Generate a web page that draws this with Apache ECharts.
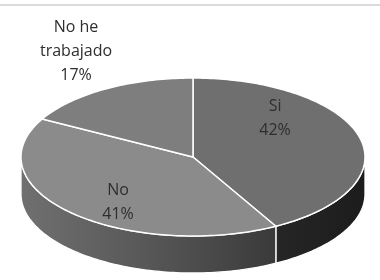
<!DOCTYPE html>
<html>
<head>
<meta charset="utf-8">
<script src="https://cdn.jsdelivr.net/npm/echarts@6/dist/echarts.min.js"></script>
<style>html,body{margin:0;padding:0;background:#fff}#c{width:380px;height:280px}</style>
</head>
<body>
<div id="c"></div>
<script>
var categories = ['Si', 'No', 'No he trabajado'];
var labelTexts = ['Si', 'No', 'No he\ntrabajado'];
var values = [42, 41, 17];

var topColors = ['#6f6f6f', '#8b8b8b', '#7e7e7e'];
var sideColors = [
  {type:'linear', x:0, y:0, x2:1, y2:0, colorStops:[{offset:0,color:'#262626'},{offset:1,color:'#1c1c1c'}]},
  {type:'linear', x:0, y:0, x2:1, y2:0, colorStops:[{offset:0,color:'#707070'},{offset:0.5,color:'#575757'},{offset:1,color:'#3a3a3a'}]},
  '#555555'
];
// label anchor relative to ellipse radii
var labelLayout = [[0.477, -0.49], [-0.436, 0.57], [-0.68, -1.34]];

var G = {cx: 193, cy: 157, rx: 172, ry: 79, depth: 37};
var total = values.reduce(function(a,b){return a+b;}, 0);
var starts = [];
(function(){ var acc = 0; for (var i=0;i<values.length;i++){ starts.push(acc); acc += values[i]; } })();

function pt(theta, dy) {
  return [G.cx + G.rx * Math.sin(theta), G.cy - G.ry * Math.cos(theta) + (dy || 0)];
}
function arc(a1, a2, dy) {
  var pts = [], n = Math.max(2, Math.ceil((a2 - a1) / 0.02));
  for (var k=0;k<=n;k++) pts.push(pt(a1 + (a2 - a1) * k / n, dy));
  return pts;
}

var chart = echarts.init(document.getElementById('c'), null, {renderer:'canvas'});
chart.setOption({
  backgroundColor: '#ffffff',
  animation: false,
  graphic: [{type:'line', shape:{x1:0, y1:5, x2:380, y2:5}, style:{stroke:'#cfcfcf', lineWidth:1.5}, z:0}],
  series: [{
    type: 'custom',
    coordinateSystem: 'none',
    data: values.map(function(v){return [v];}),
    renderItem: function(params, api) {
      var i = params.dataIndex;
      var v = api.value(0);
      var a1 = starts[i] / total * Math.PI * 2;
      var a2 = a1 + v / total * Math.PI * 2;
      var children = [];
      var s1 = Math.max(a1, Math.PI/2), s2 = Math.min(a2, Math.PI*1.5);
      if (s2 > s1) {
        var topArc = arc(s1, s2, 0);
        var botArc = arc(s1, s2, G.depth).reverse();
        children.push({type:'polygon', z2:1, shape:{points: topArc.concat(botArc)},
          style:{fill: sideColors[i], stroke:'#ffffff', lineWidth:1.3}});
      }
      var topPts = [[G.cx, G.cy]].concat(arc(a1, a2, 0));
      children.push({type:'polygon', z2:5, shape:{points: topPts},
        style:{fill: topColors[i], stroke:'#ffffff', lineWidth:1.5, lineJoin:'round'}});
      var pct = Math.round(v / total * 100) + '%';
      children.push({type:'text', z2:10, style:{
        text: labelTexts[i] + '\n' + pct,
        x: G.cx + G.rx * labelLayout[i][0], y: G.cy + G.ry * labelLayout[i][1],
        align:'center', verticalAlign:'middle', fontFamily:'Open Sans', fontSize:16,
        lineHeight:24, fill:'#2e2e2e'}});
      return {type:'group', children: children};
    }
  }]
});
</script>
</body>
</html>
